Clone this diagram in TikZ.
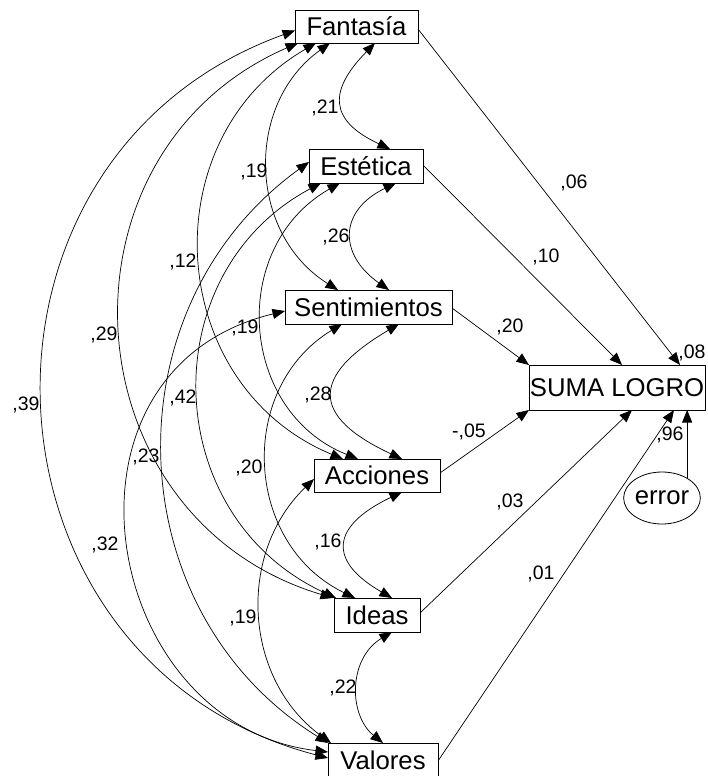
\documentclass[tikz,border=0pt]{standalone}
\usepackage{fontspec}
\setmainfont{Liberation Sans}
\usetikzlibrary{arrows.meta,shapes.geometric,calc}
\begin{document}
\begin{tikzpicture}[x=1pt,y=-1pt,
  >={Triangle[length=12.5pt,width=10pt]},
  var/.style={draw, line width=0.8pt, inner sep=0pt, outer sep=0pt,
    font=\fontsize{25.7}{30}\selectfont},
  coef/.style={inner sep=0pt, font=\fontsize{19.5}{23}\selectfont},
  reg/.style={line width=0.7pt, ->},
  cov/.style={line width=0.7pt, <->},
]
\useasboundingbox (0,0) rectangle (708,776);

% observed variables
\node[var, minimum width=123pt, minimum height=33pt] (fan) at (356.5,26.5) {Fantasía};
\node[var, minimum width=114pt, minimum height=34pt] (est) at (366,166) {Estética};
\node[var, minimum width=167pt, minimum height=34pt] (sen) at (368.5,307) {Sentimientos};
\node[var, minimum width=126pt, minimum height=33pt] (acc) at (377,475.5) {Acciones};
\node[var, minimum width=86pt, minimum height=34pt] (ide) at (377,615) {Ideas};
\node[var, minimum width=110pt, minimum height=34pt] (val) at (383,760) {Valores};
\node[var, minimum width=176pt, minimum height=45pt] (suma) at (617,387.5) {SUMA LOGRO};
\node[var, ellipse, minimum width=74pt, minimum height=52pt] (err) at (662,498) {error};

% regression paths
\draw[reg] ([yshift=-2.5pt]fan.east) -- ([xshift=151pt]suma.north west);
\draw[reg] ([yshift=1pt]est.east) -- ([xshift=93pt]suma.north west);
\draw[reg] ([yshift=-1pt]sen.east) -- (suma.north west);
\draw[reg] ([yshift=2.5pt]acc.east) -- (suma.south west);
\draw[reg] ([yshift=2pt]ide.east) -- ([xshift=103pt]suma.south west);
\draw[reg] ([yshift=-1pt]val.east) -- ([xshift=145pt]suma.south west);
\draw[reg] (err.38) -- (err.38 |- suma.south);

\node[coef] (b1) at (574,183) {,06};
\node[coef] (b2) at (546,257) {,10};
\node[coef] (b3) at (510,327) {,20};
\node[coef] (b4) at (469,432) {-,05};
\node[coef] (b5) at (510,502) {,03};
\node[coef] (b6) at (541,574) {,01};
\node[coef] (r2) at (692,353) {,08};
\node[coef] (be) at (670,435) {,96};

% covariances between neighbours
\draw[cov] ([xshift=80pt]fan.south west) .. controls (328.5,90.5) and (328.5,120.3) .. ([xshift=81pt]est.north west);
\draw[cov] ([xshift=87pt]est.south west) .. controls (338.5,210.8) and (338.5,254.6) .. ([xshift=104pt]sen.north west);
\draw[cov] ([xshift=114pt]sen.south west) .. controls (310.5,376.1) and (310.5,416.3) .. ([xshift=88pt]acc.north west);
\draw[cov] ([xshift=88pt]acc.south west) .. controls (329,527) and (329,561.6) .. ([xshift=58pt]ide.north west);
\draw[cov] ([xshift=58pt]ide.south west) .. controls (348.2,658.3) and (348.2,714.8) .. ([xshift=55pt]val.north west);

% longer covariances
\draw[cov] ([xshift=35pt]fan.south west) .. controls (244.1,104.8) and (248.3,233.9) .. ([xshift=53pt]sen.north west);
\draw[cov] ([xshift=21pt]fan.south west) .. controls (149.5,140.1) and (165.5,385.4) .. ([xshift=29pt]acc.north west);
\draw[cov] ([xshift=3pt]fan.south west) .. controls (45.6,152.9) and (66.7,518.0) .. ([xshift=-1pt]ide.north west);
\draw[cov] ([yshift=-4pt]fan.west) .. controls (-57.4,157.7) and (-34.4,663.7) .. ([yshift=2pt]val.west);
\draw[cov] ([xshift=31pt]est.south west) .. controls (228.0,246.8) and (238.8,411.3) .. ([xshift=44pt]acc.north west);
\draw[cov] ([xshift=12pt]est.south west) .. controls (152.5,272.9) and (158.4,516.3) .. ([xshift=2pt]ide.north west);
\draw[cov] ([yshift=4pt]est.west) .. controls (107.2,307.9) and (116.0,611.2) .. (val.north west);
\draw[cov] ([xshift=57pt]sen.south west) .. controls (236.3,388.4) and (243.8,544.0) .. ([xshift=21pt]ide.north west);
\draw[cov] ([yshift=-4pt]sen.west) .. controls (40,370) and (100,725) .. ([yshift=8pt]val.west);
\draw[cov] ([yshift=-3.5pt]acc.west) .. controls (236.7,553.4) and (243.3,679.1) .. ([xshift=3pt]val.north west);

\node[coef] (c1) at (325,108) {,21};
\node[coef] (c2) at (336,237) {,26};
\node[coef] (c3) at (318,395) {,28};
\node[coef] (c4) at (328,542) {,16};
\node[coef] (c5) at (343,688) {,22};
\node[coef] (c6) at (254,172) {,19};
\node[coef] (c7) at (183,262) {,12};
\node[coef] (c8) at (104,335) {,29};
\node[coef] (c9) at (26,405) {,39};
\node[coef] (c10) at (245,328) {,19};
\node[coef] (c11) at (183,398) {,42};
\node[coef] (c12) at (146,457) {,23};
\node[coef] (c13) at (249,468) {,20};
\node[coef] (c14) at (105,545) {,32};
\node[coef] (c15) at (243,618) {,19};
\end{tikzpicture}
\end{document}
